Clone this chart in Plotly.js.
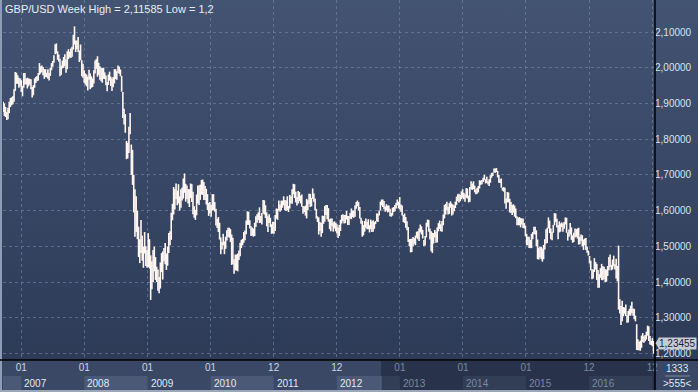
<!DOCTYPE html>
<html><head><meta charset="utf-8">
<script src="https://cdn.plot.ly/plotly-3.0.1.min.js"></script>
<style>
html,body{margin:0;padding:0;background:#3a4865;}
#chart{width:698px;height:392px;background:linear-gradient(to bottom,#435372 0px,#2d3b57 360px,#3a4865 360px,#3a4865 392px);}
</style></head><body><div id="chart"></div>
<script>
// ---------- DATA (weekly high / low, GBP/USD) ----------
const FIRST_WEEK = '2006-09-18';
const HIGH_2006 = [1.905,1.900,1.890,1.876,1.888,1.905,1.915,1.917,1.920,1.940,1.988,1.986,1.979,1.972,1.970];
const LOW_2006  = [1.876,1.865,1.862,1.854,1.856,1.873,1.890,1.895,1.898,1.905,1.935,1.955,1.955,1.944,1.948];
const HIGH_2007 = [1.965,1.949,1.985,1.985,1.970, 1.972,1.970,1.969,1.968, 1.946,1.951,1.970,1.974, 1.977,1.985,2.013,2.004,2.006, 2.002,1.996,1.996,1.986, 1.996,1.985,2.000,2.013, 2.019,2.035,2.066,2.068,2.046, 2.037,2.025,2.006,2.020, 2.030,2.038,2.023,2.046, 2.052,2.045,2.054,2.059,2.092, 2.11585,2.076,2.076,2.086, 2.048,2.065,2.021,2.011];
const LOW_2007  = [1.932,1.920,1.944,1.953,1.953, 1.942,1.948,1.953,1.940, 1.917,1.923,1.944,1.957, 1.962,1.964,1.980,1.984,1.988, 1.979,1.969,1.974,1.973, 1.969,1.964,1.977,1.993, 2.003,2.014,2.038,2.040,2.022, 2.017,1.976,1.980,1.998, 2.000,2.005,1.986,1.996, 2.024,2.029,2.027,2.031,2.051, 2.065,2.044,2.052,2.044, 2.016,2.021,1.976,1.972];
const HIGH_2008 = [1.993,1.984,1.981,1.975,1.994, 1.984,1.976,1.970,1.993, 2.020,2.024,2.032,2.014,2.004, 2.000,1.999,2.000,1.987, 1.978,1.960,1.981,1.989, 1.975,1.970,1.974,1.996,1.996, 1.990,2.006,2.003,1.995, 1.977,1.932,1.885,1.870, 1.795,1.790,1.835,1.873,1.785, 1.770,1.700,1.660,1.640, 1.600,1.555,1.520,1.574, 1.530,1.499,1.540,1.500,1.490];
const LOW_2008  = [1.958,1.953,1.948,1.936,1.966, 1.940,1.944,1.946,1.956, 1.984,1.997,1.975,1.980,1.966, 1.962,1.958,1.969,1.968, 1.951,1.934,1.952,1.964, 1.949,1.935,1.945,1.956,1.968, 1.966,1.985,1.983,1.976, 1.933,1.859,1.841,1.818, 1.744,1.746,1.761,1.814,1.700, 1.672,1.595,1.527,1.540, 1.520,1.470,1.453,1.481, 1.460,1.440,1.480,1.445,1.440];
const HIGH_2009 = [1.537,1.520,1.475,1.458, 1.490,1.499,1.470,1.443, 1.435,1.414,1.455,1.481,1.486, 1.495,1.509,1.480,1.499, 1.537,1.542,1.594,1.619, 1.666,1.660,1.676,1.656,1.674, 1.640,1.660,1.665,1.690, 1.704,1.675,1.670,1.660,1.660, 1.676,1.674,1.653,1.612, 1.602,1.645,1.670,1.670, 1.673,1.686,1.687,1.680,1.669, 1.661,1.646,1.621,1.624];
const LOW_2009  = [1.442,1.438,1.350,1.380, 1.400,1.430,1.406,1.400, 1.376,1.369,1.382,1.428,1.407, 1.458,1.450,1.434,1.446, 1.481,1.503,1.518,1.573, 1.589,1.603,1.632,1.615,1.620, 1.600,1.608,1.628,1.634, 1.650,1.625,1.632,1.620,1.610, 1.635,1.624,1.590,1.580, 1.574,1.587,1.620,1.616, 1.630,1.645,1.644,1.630,1.630, 1.617,1.602,1.585,1.592];
const HIGH_2010 = [1.616,1.646,1.646,1.624, 1.605,1.577,1.582,1.566, 1.525,1.512,1.535,1.514,1.527, 1.545,1.552,1.552,1.548, 1.533,1.524,1.464,1.477,1.477, 1.480,1.488,1.510,1.518, 1.521,1.540,1.544,1.572, 1.598,1.597,1.573,1.556,1.553, 1.550,1.566,1.584,1.590, 1.595,1.609,1.585,1.593, 1.630,1.629,1.615,1.595,1.584, 1.590,1.580,1.562,1.569];
const LOW_2010  = [1.583,1.600,1.602,1.597, 1.558,1.551,1.540,1.519, 1.478,1.491,1.503,1.478,1.493, 1.516,1.526,1.524,1.512, 1.448,1.450,1.423,1.433,1.432, 1.430,1.462,1.472,1.495, 1.503,1.510,1.517,1.534, 1.560,1.560,1.550,1.529,1.530, 1.527,1.529,1.554,1.566, 1.574,1.565,1.566,1.561, 1.592,1.589,1.579,1.556,1.540, 1.565,1.554,1.535,1.536];
const HIGH_2011 = [1.568,1.588,1.606,1.605,1.628, 1.617,1.628,1.628,1.640, 1.630,1.628,1.640,1.613, 1.644,1.640,1.660,1.675, 1.674,1.653,1.638,1.655,1.652, 1.642,1.645,1.613,1.612, 1.614,1.633,1.629,1.647, 1.647,1.636,1.662,1.648,1.634, 1.605,1.584,1.581,1.568, 1.565,1.586,1.585,1.613,1.616, 1.616,1.607,1.576,1.578, 1.578,1.567,1.570,1.566];
const LOW_2011  = [1.535,1.543,1.577,1.574,1.600, 1.597,1.601,1.608,1.615, 1.601,1.599,1.602,1.596, 1.606,1.620,1.619,1.646, 1.635,1.623,1.614,1.620,1.627, 1.620,1.611,1.591,1.596, 1.586,1.578,1.601,1.619, 1.610,1.612,1.633,1.625,1.600, 1.578,1.568,1.533,1.543, 1.527,1.537,1.563,1.569,1.588, 1.576,1.569,1.548,1.542, 1.556,1.541,1.550,1.542];
const HIGH_2012 = [1.562,1.553,1.560,1.574,1.588, 1.590,1.588,1.588,1.599, 1.585,1.585,1.593,1.606, 1.600,1.600,1.614,1.624,1.628, 1.624,1.610,1.580,1.572, 1.560,1.571,1.578,1.569, 1.576,1.559,1.575,1.570,1.573, 1.568,1.571,1.592,1.592, 1.600,1.625,1.631,1.631, 1.627,1.612,1.618,1.614,1.614, 1.605,1.593,1.608,1.610, 1.616,1.622,1.631,1.625];
const LOW_2012  = [1.536,1.523,1.529,1.543,1.564, 1.571,1.564,1.565,1.575, 1.560,1.560,1.578,1.576, 1.582,1.580,1.583,1.605,1.612, 1.600,1.578,1.563,1.527, 1.531,1.541,1.552,1.548, 1.548,1.539,1.548,1.540,1.541, 1.549,1.562,1.570,1.568, 1.586,1.600,1.615,1.610, 1.604,1.597,1.600,1.595,1.597, 1.584,1.583,1.586,1.596, 1.598,1.606,1.615,1.606];
const HIGH_2013 = [1.638,1.617,1.614,1.588,1.592, 1.582,1.570,1.554,1.520, 1.521,1.521,1.526,1.523, 1.530,1.541,1.542,1.550,1.561, 1.556,1.546,1.518,1.529, 1.566,1.575,1.574,1.550, 1.542,1.538,1.537,1.546,1.541, 1.553,1.565,1.572,1.562, 1.571,1.589,1.616,1.619,1.625, 1.611,1.621,1.626,1.620, 1.617,1.615,1.625,1.639, 1.646,1.647,1.644,1.654];
const LOW_2013  = [1.603,1.597,1.586,1.568,1.565, 1.552,1.545,1.512,1.500, 1.483,1.484,1.500,1.507, 1.503,1.524,1.520,1.515,1.539, 1.533,1.522,1.501,1.502, 1.525,1.555,1.541,1.519, 1.486,1.481,1.508,1.525,1.510, 1.511,1.542,1.549,1.542, 1.541,1.559,1.578,1.589,1.601, 1.589,1.591,1.608,1.586, 1.589,1.598,1.607,1.616, 1.627,1.623,1.626,1.632];
const HIGH_2014 = [1.660,1.650,1.646,1.663,1.662, 1.642,1.666,1.682,1.676, 1.682,1.670,1.659,1.664,1.669, 1.685,1.684,1.686,1.692, 1.700,1.688,1.695,1.682, 1.688,1.699,1.706,1.706,1.718, 1.718,1.719,1.711,1.700, 1.688,1.690,1.664,1.666, 1.664,1.634,1.652,1.651,1.633, 1.624,1.616,1.618,1.614, 1.606,1.584,1.580,1.582, 1.579,1.578,1.578,1.565,1.558];
const LOW_2014  = [1.636,1.632,1.625,1.636,1.634, 1.623,1.625,1.659,1.658, 1.660,1.651,1.646,1.647,1.651, 1.662,1.672,1.674,1.680, 1.685,1.676,1.678,1.673, 1.669,1.678,1.692,1.697,1.706, 1.706,1.708,1.693,1.678, 1.677,1.664,1.656,1.653, 1.620,1.605,1.623,1.623,1.595, 1.593,1.588,1.594,1.583, 1.579,1.559,1.559,1.559, 1.553,1.561,1.551,1.550,1.528];
const HIGH_2015 = [1.535,1.527,1.527,1.518, 1.535,1.540,1.555,1.555, 1.545,1.519,1.496,1.499,1.499, 1.494,1.504,1.520,1.548, 1.552,1.581,1.572,1.550, 1.541,1.560,1.593,1.592,1.577, 1.560,1.570,1.564,1.567, 1.564,1.568,1.581,1.580,1.539, 1.547,1.565,1.553,1.531, 1.538,1.550,1.548,1.550, 1.552,1.527,1.533,1.531,1.519, 1.522,1.523,1.499,1.488];
const LOW_2015  = [1.503,1.503,1.495,1.495, 1.495,1.520,1.534,1.533, 1.500,1.464,1.463,1.469,1.464, 1.457,1.464,1.491,1.508, 1.509,1.550,1.537,1.520, 1.517,1.538,1.559,1.568,1.553, 1.520,1.539,1.541,1.554, 1.541,1.549,1.561,1.538,1.516, 1.527,1.533,1.518,1.510, 1.512,1.525,1.526,1.522, 1.505,1.506,1.515,1.500,1.490, 1.503,1.490,1.482,1.474];
const HIGH_2016 = [1.473,1.460,1.436,1.435, 1.467,1.456,1.451,1.434,1.422, 1.439,1.451,1.444,1.443, 1.436,1.435,1.445,1.470, 1.477,1.448,1.463,1.474,1.450, 1.465,1.445,1.502,1.352, 1.333,1.348,1.330,1.329, 1.337,1.307,1.319,1.325,1.334, 1.345,1.326,1.325,1.306, 1.282,1.240,1.233,1.236,1.250, 1.257,1.248,1.252,1.261, 1.278,1.276,1.249,1.236, 1.243,1.235];
const LOW_2016  = [1.452,1.433,1.408,1.410, 1.428,1.435,1.406,1.384,1.384, 1.412,1.406,1.405,1.408, 1.400,1.401,1.417,1.433, 1.442,1.433,1.435,1.444,1.435, 1.410,1.402,1.323,1.312, 1.280,1.290,1.304,1.311, 1.305,1.286,1.287,1.306,1.306, 1.313,1.306,1.296,1.290, 1.210,1.209,1.209,1.208,1.216, 1.232,1.230,1.234,1.239, 1.250,1.235,1.225,1.224, 1.220,1.200];

const Y_TICKS = [1.2,1.3,1.4,1.5,1.6,1.7,1.8,1.9,2.0,2.1];
const Y_TICK_TEXT = ['1,20000','1,30000','1,40000','1,50000','1,60000','1,70000','1,80000','1,90000','2,00000','2,10000'];
const YEAR_STARTS = ['2007-01-01','2008-01-01','2009-01-01','2010-01-01','2011-01-01','2012-01-01','2013-01-01','2014-01-01','2015-01-01','2016-01-01','2017-01-01'];
const MONTH_LABELS = ['01','01','01','01','12','12','01','01','01','12','12'];
const YEAR_LABELS = ['2007','2008','2009','2010','2011','2012','2013','2014','2015','2016'];
const TITLE = 'GBP/USD Week High = 2,11585 Low = 1,2';
const LAST_PRICE = 1.23455;
const LAST_LABEL = '1,23455';
const BAR_LABEL = '1333';
const ZOOM_LABEL = '>555<';
const ACTIVE_END = '2012-09-14';
const X_RANGE = ['2006-09-17','2017-01-17'];
const Y_RANGE = [1.1818, 2.1896];

// ---------- BUILD ----------
const highs = [].concat(HIGH_2006,HIGH_2007,HIGH_2008,HIGH_2009,HIGH_2010,HIGH_2011,HIGH_2012,HIGH_2013,HIGH_2014,HIGH_2015,HIGH_2016);
const lows  = [].concat(LOW_2006,LOW_2007,LOW_2008,LOW_2009,LOW_2010,LOW_2011,LOW_2012,LOW_2013,LOW_2014,LOW_2015,LOW_2016);
if (highs.length !== lows.length) {
  throw new Error('length mismatch high=' + highs.length + ' low=' + lows.length);
}
const t0 = Date.parse(FIRST_WEEK + 'T00:00:00Z');
const segX = [], segY = [];
for (let i = 0; i < highs.length; i++) {
  const d = new Date(t0 + i * 7 * 86400000).toISOString().slice(0, 10);
  segX.push(d, d, null);
  segY.push(lows[i], highs[i], null);
}

const FONT = 'Liberation Sans, Arial, sans-serif';
const GRID = 'rgba(118,136,166,0.6)';
const activeMs = Date.parse(ACTIVE_END);
const tickText = MONTH_LABELS.map((m, i) =>
  Date.parse(YEAR_STARTS[i]) > activeMs ? '<span style="color:#7b889f">' + m + '</span>' : m);

// pixel helpers (plot area: x 3..655, y 0..360)
const px = X => (X - 3) / 652;
const py = Y => (360 - Y) / 360;

const shapes = [];
shapes.push({type:'rect', xref:'paper', yref:'paper', x0:px(0), x1:px(698), y0:py(392), y1:py(360), fillcolor:'#3a4865', line:{width:0}, layer:'below'});
shapes.push({type:'rect', xref:'x', yref:'paper', x0:X_RANGE[0], x1:YEAR_STARTS[0], y0:py(390), y1:py(376), fillcolor:'#4b5977', line:{width:0}, layer:'below'});
for (let i = 1; i < YEAR_LABELS.length; i += 2) {
  shapes.push({type:'rect', xref:'x', yref:'paper', x0:YEAR_STARTS[i], x1:YEAR_STARTS[i+1], y0:py(390), y1:py(376), fillcolor:'#4b5977', line:{width:0}, layer:'below'});
}
shapes.push({type:'rect', xref:'x', yref:'paper', x0:ACTIVE_END, x1:X_RANGE[1], y0:py(390), y1:py(361), fillcolor:'rgba(16,24,40,0.42)', line:{width:0}, layer:'below'});
shapes.push({type:'line', xref:'x', yref:'paper', x0:ACTIVE_END, x1:ACTIVE_END, y0:py(390), y1:py(376), line:{color:'#56647f', width:1}, layer:'below'});
shapes.push({type:'rect', xref:'paper', yref:'paper', x0:px(0), x1:px(2), y0:py(392), y1:py(0), fillcolor:'#8c9db5', line:{width:0}, layer:'above'});
shapes.push({type:'rect', xref:'paper', yref:'paper', x0:px(0), x1:px(698), y0:py(392), y1:py(390), fillcolor:'#9ba7b9', line:{width:0}, layer:'above'});
shapes.push({type:'line', xref:'paper', yref:'paper', x0:px(0), x1:px(698), y0:0, y1:0, line:{color:'#000000', width:1.5}, layer:'above'});
shapes.push({type:'line', xref:'paper', yref:'paper', x0:1, x1:1, y0:py(390), y1:1, line:{color:'#000000', width:1.5}, layer:'above'});
shapes.push({type:'line', xref:'paper', yref:'paper', x0:px(665), x1:px(690), y0:py(376), y1:py(376), line:{color:'#7d8aa1', width:1}, layer:'above'});
shapes.push({type:'path', xref:'paper', yref:'y', path:'M ' + px(655.5) + ',' + (LAST_PRICE - 0.0056) + ' L ' + px(659) + ',' + (LAST_PRICE + 0.0104) + ' L ' + px(659) + ',' + (LAST_PRICE - 0.0216) + ' Z', fillcolor:'#c6cbd3', line:{width:0}, layer:'above'});

const annotations = [];
annotations.push({text:TITLE, xref:'paper', yref:'paper', x:px(3), y:py(1), xanchor:'left', yanchor:'top', showarrow:false, font:{family:FONT, size:11, color:'#e6edf5'}});
YEAR_LABELS.forEach((y, i) => {
  const dim = Date.parse(YEAR_STARTS[i]) > activeMs;
  annotations.push({text:y, xref:'x', yref:'paper', x:YEAR_STARTS[i], xshift:1, y:py(383), xanchor:'left', yanchor:'middle', showarrow:false, font:{family:FONT, size:10, color: dim ? '#7b889f' : '#e2e9f2'}});
});
annotations.push({text:LAST_LABEL, xref:'paper', yref:'y', x:px(658), y:LAST_PRICE, yshift:-2, xanchor:'left', yanchor:'middle', showarrow:false, bgcolor:'#c6cbd3', borderpad:0, font:{family:FONT, size:10, color:'#1b2334'}});
annotations.push({text:BAR_LABEL, xref:'paper', yref:'paper', x:px(677), y:py(368), xanchor:'center', yanchor:'middle', showarrow:false, font:{family:FONT, size:10, color:'#dfe7f1'}});
annotations.push({text:ZOOM_LABEL, xref:'paper', yref:'paper', x:px(677), y:py(383), xanchor:'center', yanchor:'middle', showarrow:false, font:{family:FONT, size:10, color:'#dfe7f1'}});

const trace = {type:'scatter', mode:'lines', x:segX, y:segY, line:{color:'#fff6f2', width:1.6}, hoverinfo:'skip', connectgaps:false};

const layout = {
  width:698, height:392,
  margin:{l:3, r:43, t:0, b:32, pad:0},
  paper_bgcolor:'rgba(0,0,0,0)', plot_bgcolor:'rgba(0,0,0,0)',
  showlegend:false,
  font:{family:FONT, size:10, color:'#d8e2ef'},
  xaxis:{type:'date', range:X_RANGE, tickmode:'array', tickvals:YEAR_STARTS, ticktext:tickText,
         showgrid:true, gridcolor:GRID, griddash:'3px,3px', gridwidth:1, zeroline:false, showline:false,
         ticks:'', tickfont:{family:FONT, size:10, color:'#c9d4e3'}, fixedrange:true},
  yaxis:{side:'right', range:Y_RANGE, tickmode:'array', tickvals:Y_TICKS, ticktext:Y_TICK_TEXT,
         showgrid:true, gridcolor:GRID, griddash:'3px,3px', gridwidth:1, zeroline:false, showline:false,
         ticks:'', ticklabelstandoff:-1, tickfont:{family:FONT, size:10, color:'#d8e2ef'}, fixedrange:true},
  shapes:shapes, annotations:annotations
};

Plotly.newPlot('chart', [trace], layout, {staticPlot:true, displayModeBar:false});
</script></body></html>
